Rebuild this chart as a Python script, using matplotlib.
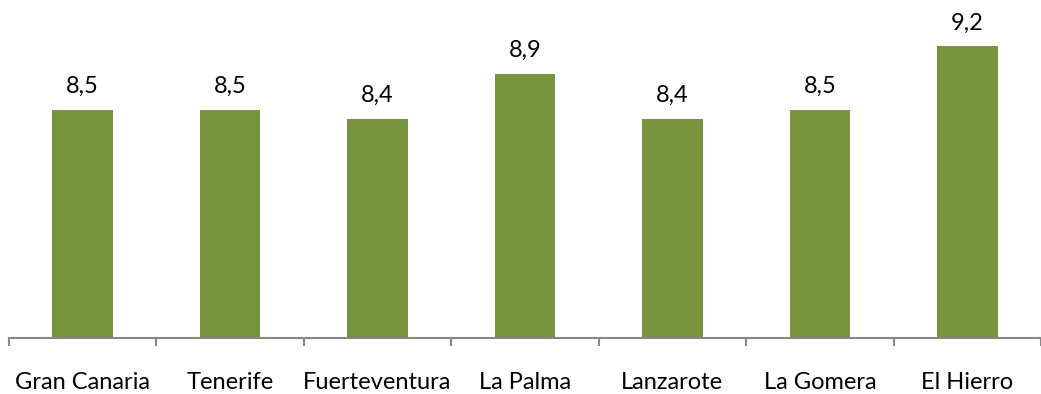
import matplotlib
matplotlib.use("Agg")
import matplotlib.pyplot as plt
import numpy as np

categories = ["Gran Canaria", "Tenerife", "Fuerteventura", "La Palma", "Lanzarote", "La Gomera", "El Hierro"]
values = [8.5, 8.5, 8.4, 8.9, 8.4, 8.5, 9.2]
value_labels = ["8,5", "8,5", "8,4", "8,9", "8,4", "8,5", "9,2"]

plt.rcParams['font.family'] = ['Lato', 'DejaVu Sans']

W, H = 1041, 394
fig = plt.figure(figsize=(W / 100, H / 100), dpi=100)
base_px = 337.5
ax = fig.add_axes([0, (H - base_px) / H, 1, base_px / H])

x = np.arange(len(categories))
bars = ax.bar(x, values, width=0.41, bottom=0, color="#77933C", zorder=2)

px_per_cat = 148.3
left = -0.5 - 9 / px_per_cat
ax.set_xlim(left, left + W / px_per_cat)
ax.set_ylim(6, 6 + base_px / 91.0)

for spine in ["left", "right", "top"]:
    ax.spines[spine].set_visible(False)
ax.spines["bottom"].set_color("#868686")
ax.spines["bottom"].set_linewidth(1.5)
ax.spines["bottom"].set_bounds(-0.5, len(categories) - 0.5)

ax.set_yticks([])
ax.set_xticks(x)
ax.set_xticklabels(categories, fontsize=17)
ax.tick_params(axis="x", which="major", length=0, pad=24.5)
ax.set_xticks(np.arange(len(categories) + 1) - 0.5, minor=True)
ax.tick_params(axis="x", which="minor", length=6, width=1.5, color="#868686", direction="out")

for xi, v, lab in zip(x, values, value_labels):
    ax.annotate(lab, (xi, v), xytext=(0, 12.2), textcoords="offset points",
                ha="center", va="baseline", fontsize=17, color="black")

fig.savefig("out.png", dpi=100)
